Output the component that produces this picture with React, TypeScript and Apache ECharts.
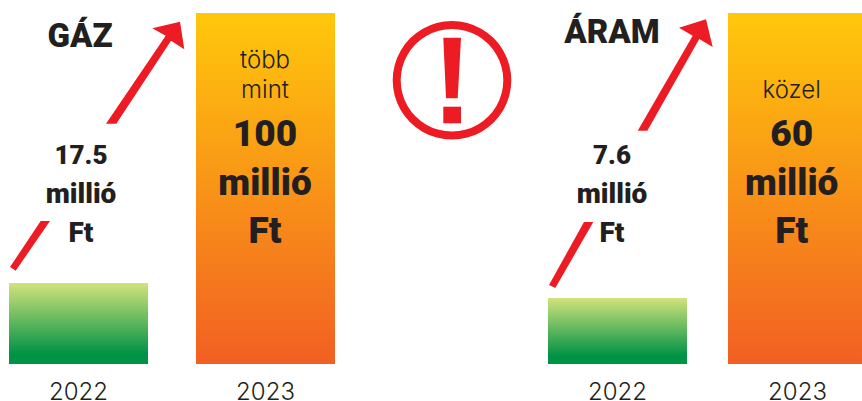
import React, { useEffect, useRef } from "react";
import * as echarts from "echarts";

const years = ["2022", "2023"];
const gazBars = [23.1, 100];
const aramBars = [11.3, 60];
const gazLow = ["17.5", "millió", "Ft"];
const gazHighPrefix = ["több", "mint"];
const gazHigh = ["100", "millió", "Ft"];
const aramLow = ["7.6", "millió", "Ft"];
const aramHighPrefix = ["közel"];
const aramHigh = ["60", "millió", "Ft"];

const FONT = "Roboto";
const LIGHT = "Inter";
const DARK = "#231f20";
const RED = "#ed1c24";

const grad = (top: string, bottom: string, stop = 1) => ({
  type: "linear", x: 0, y: 0, x2: 0, y2: 1,
  colorStops: [{ offset: 0, color: top }, { offset: stop, color: bottom }, { offset: 1, color: bottom }],
});
const green = grad("#d2e37c", "#009245", 0.88);
const orange = grad("#ffc80b", "#f25f23");

const txt = (s: string, x: number, y: number, size: number, weight: number, family = FONT) => ({
  type: "text", x, y, z: 10,
  style: { text: s, fill: DARK, font: `${weight} ${size}px ${family}`, textAlign: "center", textVerticalAlign: "middle" },
});
const poly = (points: number[][]) => ({ type: "polygon", z: 10, shape: { points }, style: { fill: RED } });

const BIG = 37, MID = 28, NUM = 26, TITLE = 33;

export default function App() {
  const ref = useRef<HTMLDivElement>(null);
  useEffect(() => {
    document.body.style.margin = "0";
    const chart = echarts.init(ref.current!, null, { renderer: "svg" });
    const xAxis = (gridIndex: number) => ({
      type: "category", gridIndex, data: years,
      axisLine: { show: false }, axisTick: { show: false },
      axisLabel: { fontFamily: LIGHT, fontWeight: 300, fontSize: 24, lineHeight: 18, color: DARK, margin: 18 },
    });
    const yAxis = (gridIndex: number, max: number) => ({
      type: "value", gridIndex, min: 0, max, show: false, splitLine: { show: false },
    });
    const bars = (idx: number, data: number[]) => ({
      type: "bar", xAxisIndex: idx, yAxisIndex: idx, barWidth: 139, silent: true,
      data: [
        { value: data[0], itemStyle: { color: green } },
        { value: data[1], itemStyle: { color: orange } },
      ],
    });
    chart.setOption({
      animation: false,
      backgroundColor: "#ffffff",
      grid: [
        { left: -15, width: 374, top: 13, height: 351, outerBoundsMode: "none" },
        { left: 527.5, width: 360, top: 13, height: 351, outerBoundsMode: "none" },
      ],
      xAxis: [xAxis(0), xAxis(1)],
      yAxis: [yAxis(0, 100), yAxis(1, 60)],
      series: [bars(0, gazBars), bars(1, aramBars)],
      graphic: [
        poly([[10, 267], [15.7, 270.7], [50, 221], [40.7, 221]]),
        poly([[106, 123.7], [116.3, 123.7], [171, 40.7], [184.3, 49.3], [180, 21.7], [152.3, 28.3], [165.7, 35.7]]),
        poly([[549, 285], [555.3, 288], [593.3, 222], [584, 222]]),
        poly([[637.7, 130.7], [647.3, 130.7], [699.3, 39], [712.7, 47], [706, 19.3], [679, 27.7], [692.7, 35.7]]),
        { type: "ring", z: 10, shape: { cx: 452, cy: 80.3, r: 59.3, r0: 51.3 }, style: { fill: RED } },
        poly([[443.3, 37.7], [461, 37.7], [457.7, 98.3], [446, 98.3]]),
        { type: "rect", z: 10, shape: { x: 443.3, y: 106.7, width: 17.7, height: 16.6 }, style: { fill: RED } },
        txt("GÁZ", 80, 35, TITLE, 900),
        txt("ÁRAM", 612, 31, TITLE, 900),
        txt(gazLow[0], 81, 155, NUM, 900),
        txt(gazLow[1], 81, 193, MID, 900),
        txt(gazLow[2], 81, 232, MID, 900),
        txt(aramLow[0], 612, 155, NUM, 900),
        txt(aramLow[1], 612, 193, MID, 900),
        txt(aramLow[2], 612, 232, MID, 900),
        txt(gazHighPrefix[0], 265, 59, 24, 300, LIGHT),
        txt(gazHighPrefix[1], 265, 89, 24, 300, LIGHT),
        txt(gazHigh[0], 265, 133, BIG, 900),
        txt(gazHigh[1], 265, 182, BIG, 900),
        txt(gazHigh[2], 265, 230, BIG, 900),
        txt(aramHighPrefix[0], 791.7, 89, 24, 300, LIGHT),
        txt(aramHigh[0], 791.7, 133, BIG, 900),
        txt(aramHigh[1], 791.7, 182, BIG, 900),
        txt(aramHigh[2], 791.7, 230, BIG, 900),
      ],
    });
    return () => chart.dispose();
  }, []);
  return <div ref={ref} style={{ width: 862, height: 401, overflow: "hidden" }} />;
}
